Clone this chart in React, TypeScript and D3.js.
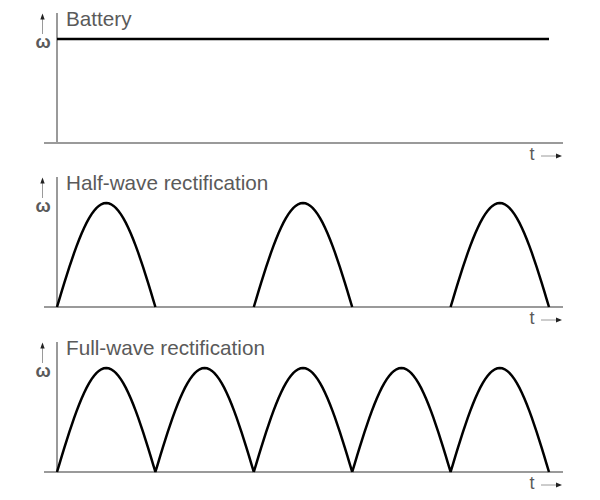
import React from "react";
import * as d3 from "d3";

// three panels: battery (flat), half-wave, full-wave
const panelTitles = ["Battery", "Half-wave rectification", "Full-wave rectification"];
const panelOffsets = [0, 164, 329];

// amplitude of each half cycle (5 half cycles across the axis)
const batteryLevel = [1, 1];
const halfWaveCycles = [1, 0, 1, 0, 1];
const fullWaveCycles = [1, 1, 1, 1, 1];

const W = 600, H = 500;
const axisX = 57, axisEnd = 563, axisStart = 44;
const plotEnd = 549;
const topY = 13, baseY = 143, peakY = 39;

const greyAxis = "#9a9a9a";
const greyText = "#5a5a5a";
const font = "Liberation Sans, Arial, sans-serif";

function humpPath(cycles: number[], x: d3.ScaleLinear<number, number>, y: d3.ScaleLinear<number, number>) {
  // only draw humps that have an amplitude, the rest stays on the axis
  let out = "";
  cycles.forEach((amp, i) => {
    if (amp === 0) return;
    const pts: [number, number][] = [];
    for (let k = 0; k <= 40; k++) {
      pts.push([i + k / 40, amp * Math.sin(Math.PI * (k / 40))]);
    }
    out += d3.line<[number, number]>().x(d => x(d[0])).y(d => y(d[1]))(pts) || "";
  });
  return out;
}

function Panel({ idx }: { idx: number }) {
  const x = d3.scaleLinear().domain([0, 5]).range([axisX, plotEnd]);
  const y = d3.scaleLinear().domain([0, 1]).range([baseY, peakY]);
  let d = "";
  if (idx === 0) {
    d = d3.line<number>().x((_, i) => x(i * 5)).y(v => y(v))(batteryLevel) || "";
  } else {
    d = humpPath(idx === 1 ? halfWaveCycles : fullWaveCycles, x, y);
  }
  return (
    <g transform={`translate(0, ${panelOffsets[idx]})`}>
      <line x1={axisX} x2={axisX} y1={topY} y2={baseY} stroke={greyAxis} strokeWidth={2} />
      <line x1={axisStart} x2={axisEnd} y1={baseY} y2={baseY} stroke={greyAxis} strokeWidth={2} />
      <path d={d} fill="none" stroke="#000" strokeWidth={2.5} />
      <text x={66} y={26} fontSize={20.7} fill={greyText} fontFamily={font}>
        {panelTitles[idx]}
      </text>
      {/* y label: arrow + omega */}
      <line x1={42.5} x2={42.5} y1={34} y2={18} stroke={greyAxis} strokeWidth={1} />
      <path d="M40.3,19.5 L42.5,13.5 L44.7,19.5 Z" fill="#222" />
      <text x={43} y={48} textAnchor="middle" fontSize={18} fontWeight="bold"
        fill={greyText} fontFamily={font}>ω</text>
      {/* x label: t + arrow */}
      <text x={532} y={160} fontSize={18} fill={greyText} textAnchor="middle" fontFamily={font}>t</text>
      <line x1={541} x2={557} y1={156} y2={156} stroke={greyAxis} strokeWidth={1} />
      <path d="M556,153.5 L562,156 L556,158.5 Z" fill="#222" />
    </g>
  );
}

export default function App() {
  return (
    <svg width={W} height={H} style={{ position: "absolute", left: 0, top: 0, background: "#fff" }}>
      {panelTitles.map((_, i) => <Panel key={i} idx={i} />)}
    </svg>
  );
}
